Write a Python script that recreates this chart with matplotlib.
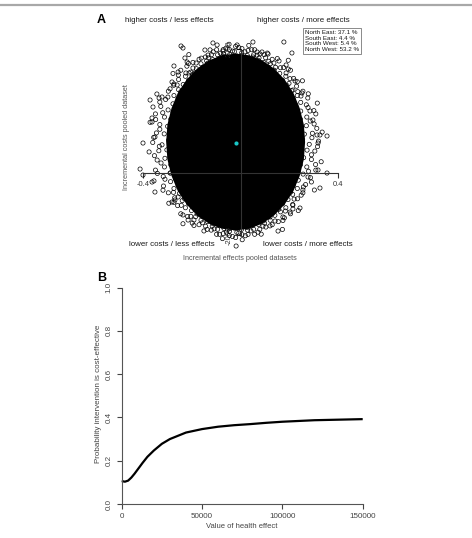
import matplotlib
matplotlib.use("Agg")
import matplotlib.pyplot as plt
from matplotlib.lines import Line2D

plt.rcParams['font.family'] = ['Liberation Sans', 'DejaVu Sans']

W, H = 472, 538

# ---------------- Panel A data (incremental effects / costs) ----------------
# solid dense core of the cloud (outline)
core_x = [0.265, 0.260, 0.243, 0.217, 0.181, 0.138, 0.089, 0.036,
          -0.020, -0.076, -0.129, -0.178, -0.221, -0.257, -0.283, -0.300,
          -0.305, -0.300, -0.283, -0.257, -0.221, -0.178, -0.129, -0.076,
          -0.020, 0.036, 0.089, 0.138, 0.181, 0.217, 0.243, 0.260]
core_y = [0, 371, 728, 1056, 1343, 1579, 1756, 1864,
          1900, 1864, 1756, 1579, 1343, 1056, 728, 371,
          0, -371, -728, -1056, -1343, -1579, -1756, -1864,
          -1900, -1864, -1756, -1579, -1343, -1056, -728, -371]

# densely stippled band of simulations around the core
ring_x = [0.255, 0.282, 0.320, 0.262, 0.295, 0.335, 0.249, 0.270, 0.302,
          0.246, 0.272, 0.309, 0.247, 0.277, 0.315, 0.227, 0.247, 0.276,
          0.216, 0.233, 0.256, 0.210, 0.230, 0.254, 0.191, 0.199, 0.218,
          0.173, 0.186, 0.205, 0.161, 0.177, 0.196, 0.138, 0.144, 0.158,
          0.115, 0.122, 0.130, 0.096, 0.103, 0.110, 0.073, 0.076, 0.080,
          0.050, 0.054, 0.058, 0.028, 0.031, 0.034, 0.004, 0.005, 0.006,
          -0.015, -0.025, -0.020, -0.044, -0.046, -0.047, -0.067, -0.069, -0.071,
          -0.090, -0.094, -0.098, -0.114, -0.119, -0.125, -0.135, -0.139, -0.144,
          -0.155, -0.162, -0.170, -0.181, -0.195, -0.212, -0.197, -0.204, -0.220,
          -0.213, -0.226, -0.245, -0.235, -0.254, -0.277, -0.245, -0.254, -0.274,
          -0.256, -0.273, -0.296, -0.277, -0.307, -0.343, -0.277, -0.297, -0.327,
          -0.286, -0.312, -0.349, -0.299, -0.331, -0.371, -0.292, -0.313, -0.345,
          -0.295, -0.322, -0.360, -0.302, -0.335, -0.375, -0.289, -0.310, -0.342,
          -0.286, -0.312, -0.349, -0.287, -0.317, -0.355, -0.267, -0.287, -0.316,
          -0.256, -0.273, -0.296, -0.250, -0.270, -0.294, -0.231, -0.239, -0.258,
          -0.213, -0.226, -0.245, -0.201, -0.217, -0.236, -0.178, -0.184, -0.198,
          -0.155, -0.162, -0.170, -0.136, -0.143, -0.150, -0.113, -0.116, -0.120,
          -0.090, -0.094, -0.098, -0.068, -0.071, -0.074, -0.044, -0.045, -0.046,
          -0.025, -0.015, -0.020, 0.004, 0.006, 0.007, 0.027, 0.029, 0.031,
          0.050, 0.054, 0.058, 0.074, 0.079, 0.085, 0.095, 0.099, 0.104,
          0.115, 0.122, 0.130, 0.141, 0.155, 0.172, 0.157, 0.164, 0.180,
          0.173, 0.186, 0.205, 0.195, 0.214, 0.237, 0.205, 0.214, 0.234,
          0.216, 0.233, 0.256, 0.237, 0.267, 0.303, 0.237, 0.257, 0.287,
          0.246, 0.272, 0.309, 0.259, 0.291, 0.331, 0.252, 0.273, 0.305]
ring_y = [60, -50, 20, 169, 188, 213, 324, 350, 388,
          489, 536, 604, 665, 741, 836, 790, 852, 946,
          934, 999, 1092, 1103, 1199, 1316, 1213, 1260, 1367,
          1321, 1413, 1543, 1474, 1601, 1757, 1545, 1606, 1742,
          1602, 1682, 1778, 1711, 1811, 1912, 1755, 1808, 1894,
          1787, 1876, 1984, 1858, 1968, 2077, 1861, 1917, 2009,
          1850, 1943, 2054, 1880, 1990, 2101, 1840, 1895, 1986,
          1787, 1876, 1984, 1773, 1877, 1981, 1694, 1744, 1828,
          1602, 1682, 1778, 1576, 1712, 1879, 1445, 1502, 1630,
          1321, 1413, 1543, 1237, 1344, 1474, 1082, 1125, 1220,
          934, 999, 1092, 821, 915, 1032, 639, 690, 766,
          489, 536, 604, 337, 376, 424, 163, 175, 195,
          40, -60, -10, -169, -188, -213, -324, -350, -388,
          -489, -536, -604, -665, -741, -836, -790, -852, -946,
          -934, -999, -1092, -1103, -1199, -1316, -1213, -1260, -1367,
          -1321, -1413, -1543, -1474, -1601, -1757, -1545, -1606, -1742,
          -1602, -1682, -1778, -1711, -1811, -1912, -1755, -1808, -1894,
          -1787, -1876, -1984, -1858, -1968, -2077, -1861, -1917, -2009,
          -1850, -1943, -2054, -1880, -1990, -2101, -1840, -1895, -1986,
          -1787, -1876, -1984, -1773, -1877, -1981, -1694, -1744, -1828,
          -1602, -1682, -1778, -1576, -1712, -1879, -1445, -1502, -1630,
          -1321, -1413, -1543, -1237, -1344, -1474, -1082, -1125, -1220,
          -934, -999, -1092, -821, -915, -1032, -639, -690, -766,
          -489, -536, -604, -337, -376, -424, -163, -175, -195]

ring2_x = [0.293, 0.313, 0.286, 0.301, 0.270, 0.278, 0.235, 0.233, 0.203,
           0.196, 0.164, 0.151, 0.116, 0.097, 0.068, 0.046, 0.018, -0.007,
           -0.033, -0.060, -0.083, -0.112, -0.132, -0.161, -0.182, -0.214, -0.224,
           -0.255, -0.260, -0.289, -0.298, -0.331, -0.319, -0.348, -0.331, -0.356,
           -0.333, -0.353, -0.326, -0.341, -0.310, -0.318, -0.275, -0.273, -0.243,
           -0.236, -0.204, -0.191, -0.156, -0.137, -0.108, -0.086, -0.058, -0.033,
           -0.007, 0.020, 0.043, 0.072, 0.092, 0.121, 0.142, 0.174, 0.184,
           0.215, 0.220, 0.249, 0.258, 0.291, 0.279, 0.308, 0.291, 0.316]
ring2_y = [92, 294, 451, 675, 800, 1036, 1082, 1296, 1361,
           1568, 1597, 1794, 1736, 1878, 1867, 1984, 1939, 2031,
           1955, 2015, 1910, 1939, 1808, 1803, 1698, 1687, 1484,
           1439, 1227, 1143, 966, 859, 629, 484, 274, 99,
           -92, -294, -451, -675, -800, -1036, -1082, -1296, -1361,
           -1568, -1597, -1794, -1736, -1878, -1867, -1984, -1939, -2031,
           -1955, -2015, -1910, -1939, -1808, -1803, -1698, -1687, -1484,
           -1439, -1227, -1143, -966, -859, -629, -484, -274, -99]

# sparse outlying simulations
out_x = [-0.244, -0.236, -0.228, -0.219, -0.273, -0.256, -0.281, -0.273, -0.322, -0.334,
         -0.371, -0.359, -0.363, -0.363, -0.351, -0.400, -0.113, -0.096, -0.146, -0.133,
         -0.195, -0.187, -0.211, -0.072, -0.076, -0.014,
         0.051, 0.178, 0.211, 0.068, 0.088, 0.113, 0.051, 0.137, 0.187, 0.187,
         0.224, 0.215, 0.252, 0.248, 0.285, 0.297, 0.326, 0.355, 0.314, 0.318,
         -0.412, -0.363, -0.351, -0.281, -0.269, -0.256, -0.215, -0.191, -0.166, -0.146,
         -0.084, -0.064, -0.018, 0.059, 0.121, 0.154, 0.174, 0.203, 0.244, 0.215,
         0.326, 0.256, 0.277, 0.318, 0.355, -0.400, -0.289]
out_y = [2064, 2021, 1806, 1720, 1634, 1505, 1290, 1247, 968, 946,
         903, 753, 516, 430, 108, -22, 2129, 2086, 1978, 1870,
         1591, 1484, 1484, 1956, 1828, 2086,
         2150, 2150, 1914, 1935, 1935, 1892, 1828, 1699, 1656, 1484,
         1312, 1118, 1054, 989, 667, 473, 151, 129, 151, -22,
         -581, -860, -1075, -1290, -1247, -1182, -1677, -1677, -1570, -1462,
         -1634, -1699, -2236, -1570, -1612, -1914, -1612, -1505, -1419, -1355,
         -989, -1032, -753, -602, -667, -710, -667]

mean_x = [-0.018]
mean_y = [-20]

quad_labels = ["higher costs / less effects", "higher costs / more effects",
               "lower costs / less effects", "lower costs / more effects"]
quad_share = ["North East: 37.1 %", "South East: 4.4 %",
              "South West: 5.4 %", "North West: 53.2 %"]

# ---------------- Panel B data (acceptability curve) ----------------
wtp = [0, 2000, 4000, 6000, 8000, 10000, 13000, 16000, 20000, 25000, 30000,
       40000, 50000, 60000, 70000, 80000, 90000, 100000, 120000, 150000]
prob = [0.106, 0.103, 0.108, 0.122, 0.140, 0.160, 0.190, 0.218, 0.247, 0.278, 0.300,
        0.330, 0.346, 0.357, 0.364, 0.369, 0.375, 0.380, 0.387, 0.392]

fig = plt.figure(figsize=(W / 100, H / 100), dpi=100)
fig.patch.set_facecolor('white')

def fx(px):
    return px / W

def fy(py):
    return 1 - py / H

# top separator rule
fig.add_artist(Line2D([0, 1], [fy(5), fy(5)], transform=fig.transFigure,
                      color='#a8a8a8', lw=1.6))

# ---------------- Panel A ----------------
axA = fig.add_axes([fx(100), fy(265), fx(285), 235 / H])
axA.set_xlim(-0.5764, 0.5928)
axA.set_ylim(-2644, 2408)
axA.fill(core_x, core_y, color='black', lw=0, zorder=1)
for xs, ys in [(ring_x, ring_y), (ring2_x, ring2_y), (out_x, out_y)]:
    axA.scatter(xs, ys, s=9, facecolors='none', edgecolors='black',
                linewidths=0.5, zorder=2)
axA.scatter(mean_x, mean_y, s=9, color='#19c6c6', zorder=6, lw=0)

for s in ['top', 'right']:
    axA.spines[s].set_visible(False)
axA.spines['left'].set_position(('data', 0))
axA.spines['left'].set_bounds(-2000, 2000)
axA.spines['bottom'].set_position(('data', -667))
axA.spines['bottom'].set_bounds(-0.4, 0.4)
for s in ['left', 'bottom']:
    axA.spines[s].set_color('#333333')
    axA.spines[s].set_linewidth(0.8)
    axA.spines[s].set_zorder(5)
axA.set_xticks([-0.4, 0.4])
axA.set_xticklabels(['-0.4', '0.4'])
axA.set_yticks([-2000, 2000])
axA.set_yticklabels(['-2000', '2000'], rotation=90, va='center')
axA.tick_params(direction='out', length=3.5, width=0.8, labelsize=5.4,
                colors='#333333', pad=2)
axA.patch.set_alpha(0)

fig.text(fx(97), fy(20), 'A', fontsize=9, fontweight='bold', ha='left', va='center')
tcol = '#1a1a1a'
fig.text(fx(169), fy(20), quad_labels[0], fontsize=5.7, ha='center', va='center', color=tcol)
fig.text(fx(303), fy(20), quad_labels[1], fontsize=5.7, ha='center', va='center', color=tcol)
fig.text(fx(172), fy(244), quad_labels[2], fontsize=5.7, ha='center', va='center', color=tcol)
fig.text(fx(308), fy(244), quad_labels[3], fontsize=5.7, ha='center', va='center', color=tcol)
fig.text(fx(305), fy(30), "\n".join(quad_share), fontsize=4.5, ha='left', va='top',
         linespacing=1.15, color=tcol,
         bbox=dict(boxstyle='square,pad=0.35', fc='white', ec='#777777', lw=0.6))
fig.text(fx(240), fy(259), 'Incremental effects pooled datasets', fontsize=5.2,
         ha='center', va='center', color='#555555')
fig.text(fx(127), fy(137), 'Incremental costs pooled dataset', fontsize=5.2,
         ha='center', va='center', rotation=90, color='#555555')

# ---------------- Panel B ----------------
axB = fig.add_axes([fx(121.7), fy(504), 241 / W, 216.5 / H])
axB.plot(wtp, prob, color='black', lw=1.6, solid_capstyle='butt', clip_on=False)
axB.set_xlim(0, 150000)
axB.set_ylim(0, 1)
for s in ['top', 'right']:
    axB.spines[s].set_visible(False)
for s in ['left', 'bottom']:
    axB.spines[s].set_color('#555555')
    axB.spines[s].set_linewidth(0.8)
axB.set_xticks([0, 50000, 100000, 150000])
axB.set_xticklabels(['0', '50000', '100000', '150000'])
axB.set_yticks([0, 0.2, 0.4, 0.6, 0.8, 1.0])
axB.set_yticklabels(['0.0', '0.2', '0.4', '0.6', '0.8', '1.0'], rotation=90, va='center')
axB.tick_params(direction='out', length=3.5, width=0.8, labelsize=5.8,
                colors='#444444', pad=3)

fig.text(fx(97), fy(278), 'B', fontsize=9, fontweight='bold', ha='left', va='center')
fig.text(fx(242), fy(527), 'Value of health effect', fontsize=5.5,
         ha='center', va='center', color='#444444')
fig.text(fx(98), fy(394), 'Probability intervention is cost-effective', fontsize=5.8,
         ha='center', va='center', rotation=90, color='#444444')

fig.savefig('out.png', dpi=100)
